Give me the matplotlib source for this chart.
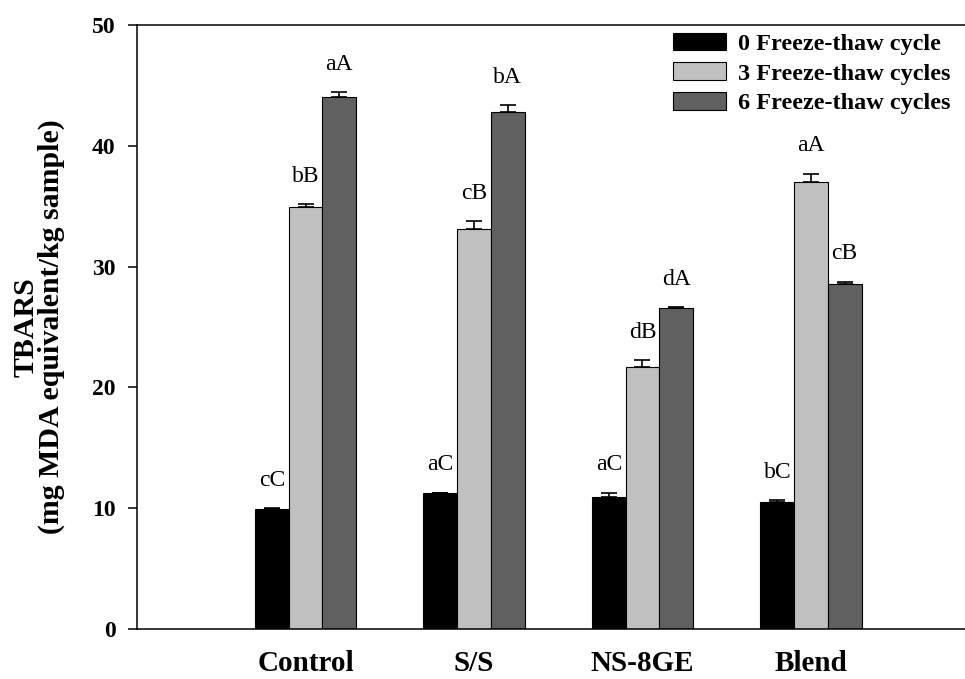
"""TBARS after repeated freeze-thaw cycles, grouped bar chart."""

import matplotlib

matplotlib.use("Agg")
import matplotlib.pyplot as plt  # noqa: E402
import numpy as np

groups = ["Control", "S/S", "NS-8GE", "Blend"]
series_names = [
    "0 Freeze-thaw cycle",
    "3 Freeze-thaw cycles",
    "6 Freeze-thaw cycles",
]

cycle0 = [9.9, 11.25, 10.95, 10.55]
cycle3 = [34.9, 33.1, 21.7, 37.0]
cycle6 = [44.05, 42.8, 26.55, 28.55]

err0 = [0.13, 0.05, 0.35, 0.12]
err3 = [0.25, 0.65, 0.55, 0.7]
err6 = [0.4, 0.55, 0.1, 0.2]

letters0 = ["cC", "aC", "aC", "bC"]
letters3 = ["bB", "cB", "dB", "aA"]
letters6 = ["aA", "bA", "dA", "cB"]

colors = ["#000000", "#c0c0c0", "#606060"]

plt.rcParams.update(
    {
        "font.family": "serif",
        "font.serif": ["Liberation Serif", "DejaVu Serif"],
        "axes.linewidth": 1.1,
    }
)

fig = plt.figure(figsize=(9.65, 6.79), dpi=100)
ax = fig.add_axes([0.142, 0.0736, 0.873, 0.8895])

x = np.arange(1, len(groups) + 1)
width = 0.2
offsets = [-width, 0.0, width]

all_vals = [cycle0, cycle3, cycle6]
all_errs = [err0, err3, err6]
all_letters = [letters0, letters3, letters6]

handles = []
for vals, errs, letters, off, col, name in zip(
    all_vals, all_errs, all_letters, offsets, colors, series_names
):
    pos = x + off
    b = ax.bar(pos, vals, width, color=col, edgecolor="black", linewidth=0.8,
               label=name, zorder=2)
    handles.append(b)
    ax.errorbar(pos, vals, yerr=[np.zeros(len(vals)), errs], fmt="none",
                ecolor="black", elinewidth=1.2, capsize=6, capthick=1.2,
                zorder=3)
    for p, v, e, t in zip(pos, vals, errs, letters):
        ax.annotate(t, (p, v + e), xytext=(0, 20), textcoords="offset points",
                    ha="center", va="center", fontsize=17)

ax.set_xlim(0, 5)
ax.set_ylim(0, 50)
ax.set_yticks([0, 10, 20, 30, 40, 50])
ax.set_xticks(x)
ax.set_xticklabels(groups, fontsize=21, fontweight="bold")
ax.tick_params(axis="x", length=0, pad=15)
ax.tick_params(axis="y", direction="out", length=6.5, width=1.1, pad=9,
               labelsize=17)
for lab in ax.get_yticklabels():
    lab.set_fontweight("bold")

ax.spines["right"].set_visible(False)

ax.set_ylabel("TBARS\n(mg MDA equivalent/kg sample)", fontsize=21.5,
              fontweight="bold", linespacing=0.95, labelpad=19)

ax.legend(
    handles=handles,
    loc="upper left",
    bbox_to_anchor=(0.697, 0.952),
    bbox_transform=fig.transFigure,
    frameon=False,
    handlelength=2.2,
    handleheight=0.75,
    handletextpad=0.5,
    labelspacing=0.3,
    borderpad=0,
    borderaxespad=0,
    prop={"weight": "bold", "size": 17.5},
)

fig.savefig("out.png", dpi=100)
plt.close(fig)
